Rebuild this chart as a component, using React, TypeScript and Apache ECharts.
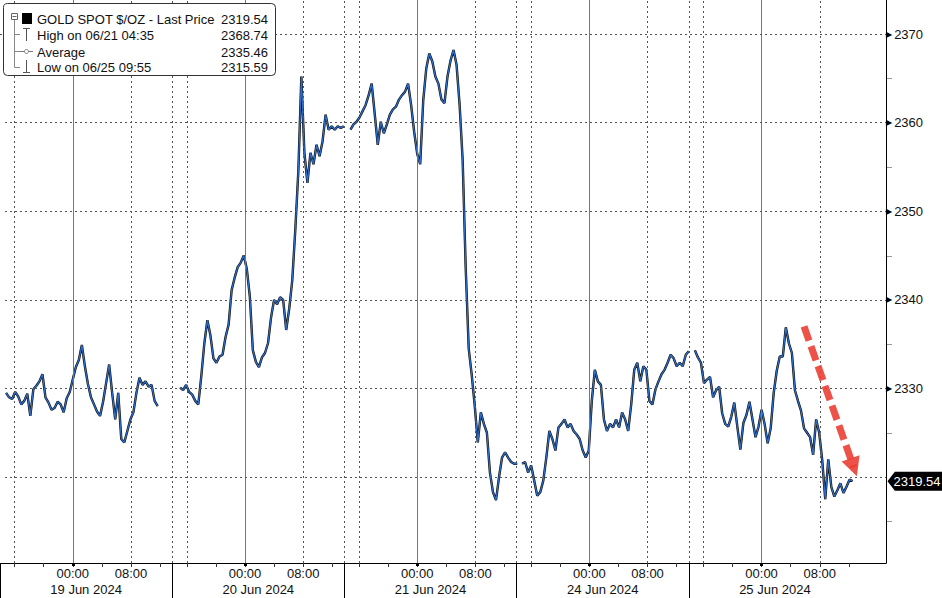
import React, { useEffect, useRef } from "react";
import * as echarts from "echarts";

// ---------- data ----------
const SESSION_DATES = ["19 Jun 2024", "20 Jun 2024", "21 Jun 2024", "24 Jun 2024", "25 Jun 2024"];
const SESSION_OPEN = "14:00"; // each session opens 14:00 of the previous calendar day
const SESSION_MINUTES = 1420;
const STEP_MINUTES = 25;
const FIRST_SAMPLE = ["14:50", "15:05", "14:50", "14:45", "14:50"];

const jun19 = [2329.5, 2329.0, 2328.8, 2329.6, 2329.1, 2328.2, 2328.6, 2329.4, 2326.9, 2329.9, 2330.3, 2330.8, 2331.6, 2329.0, 2328.4, 2327.6, 2327.8, 2328.5, 2328.2, 2327.3, 2328.9, 2329.6, 2331.0, 2332.4, 2333.2, 2334.9, 2332.5, 2330.5, 2329.0, 2328.2, 2327.4, 2326.9, 2328.5, 2330.6, 2332.7, 2329.5, 2326.5, 2329.5, 2324.3, 2323.9, 2325.2, 2326.5, 2327.3, 2329.5, 2331.2, 2330.4, 2330.8, 2330.2, 2330.4, 2328.6, 2328.0];
const jun20 = [2330.1, 2329.8, 2330.4, 2329.6, 2329.3, 2328.6, 2328.2, 2331.4, 2335.1, 2337.7, 2336.0, 2333.4, 2332.9, 2333.6, 2333.8, 2335.8, 2337.2, 2341.1, 2342.5, 2343.7, 2344.2, 2345.0, 2343.5, 2340.4, 2334.3, 2333.0, 2332.4, 2333.5, 2334.0, 2335.1, 2338.0, 2340.0, 2339.5, 2340.3, 2340.0, 2336.6, 2339.0, 2342.2, 2347.9, 2354.5, 2365.2, 2356.6, 2353.2, 2356.6, 2355.3, 2357.5, 2356.2, 2357.9, 2360.9, 2359.2, 2359.6, 2359.2, 2359.6, 2359.4, 2359.6];
const jun21 = [2359.2, 2359.8, 2360.1, 2360.6, 2361.3, 2362.0, 2363.1, 2364.4, 2361.0, 2357.5, 2360.1, 2358.8, 2359.8, 2360.9, 2361.5, 2361.8, 2362.6, 2363.1, 2363.5, 2364.4, 2362.0, 2359.0, 2356.5, 2355.3, 2362.5, 2366.1, 2367.8, 2366.9, 2365.2, 2364.4, 2362.6, 2362.2, 2365.2, 2367.0, 2368.2, 2366.5, 2362.0, 2355.8, 2343.7, 2334.5, 2331.5, 2328.0, 2323.9, 2327.3, 2326.0, 2325.0, 2320.5, 2318.3, 2317.4, 2320.0, 2322.2, 2322.8, 2322.2, 2321.7, 2321.5, 2321.5];
const jun24 = [2321.5, 2321.7, 2320.5, 2321.3, 2319.6, 2317.9, 2318.3, 2319.6, 2322.2, 2325.2, 2324.3, 2323.0, 2325.6, 2326.0, 2326.5, 2325.6, 2326.0, 2325.2, 2324.8, 2324.3, 2323.0, 2322.2, 2323.0, 2328.6, 2332.1, 2330.8, 2330.4, 2326.5, 2325.2, 2326.0, 2325.6, 2326.5, 2325.6, 2327.3, 2326.5, 2325.2, 2328.2, 2332.1, 2332.9, 2330.8, 2332.5, 2332.1, 2328.6, 2328.2, 2329.9, 2330.8, 2331.6, 2332.1, 2332.9, 2333.8, 2333.4, 2332.5, 2332.9, 2332.5, 2333.8, 2334.2];
const jun25 = [2334.3, 2333.5, 2332.9, 2330.6, 2331.0, 2331.3, 2329.0, 2329.8, 2330.2, 2327.2, 2326.0, 2325.7, 2326.8, 2328.4, 2325.7, 2323.1, 2326.1, 2327.0, 2328.5, 2326.5, 2324.5, 2325.7, 2327.6, 2326.0, 2323.8, 2325.5, 2329.5, 2332.0, 2333.6, 2333.6, 2336.9, 2335.1, 2334.0, 2329.8, 2328.6, 2327.5, 2325.5, 2325.0, 2324.5, 2322.5, 2326.5, 2325.0, 2321.9, 2317.5, 2322.0, 2318.9, 2317.8, 2318.5, 2319.3, 2318.2, 2318.9, 2319.7, 2319.54];
const SESSIONS = [jun19, jun20, jun21, jun24, jun25];

const LEGEND_LABELS = ["GOLD SPOT $/OZ - Last Price", "High on 06/21 04:35", "Average", "Low on 06/25 09:55"];
const LEGEND_VALUES = [2319.54, 2368.74, 2335.46, 2315.59];
const LAST_PRICE = 2319.54;

const TIME_LABELS = ["00:00", "08:00"];
const TICK_TIMES = ["16:00", "20:00", "00:00", "04:00", "08:00", "12:00"];
const DOTTED_TIMES = ["16:00", "08:00"];
const SOLID_TIMES = ["00:00"];
const Y_GRID = [2320, 2330, 2340, 2350, 2360, 2370];
const Y_LABELS = [2330, 2340, 2350, 2360, 2370]; // 2320 is covered by the last-price tag
const Y_MINOR = [2315, 2325, 2335, 2345, 2355, 2365];
const Y_MIN = 2310.3;
const Y_MAX = 2373.84;
const X_MAX = 7306;

// trend arrow (session 5): time, price
const ARROW_FROM = ["05:50", 2337.0];
const ARROW_TO = ["12:40", 2321.1];

// ---------- helpers ----------
const GRID = { left: 0, top: 0, width: 886, height: 563 };
const toMin = (t: string) => {
  const [h, m] = t.split(":").map(Number);
  return h * 60 + m;
};
const fromOpen = (t: string) => (toMin(t) - toMin(SESSION_OPEN) + 1440) % 1440;
const xAt = (session: number, t: string) => session * SESSION_MINUTES + fromOpen(t);
const yPix = (v: number) => GRID.top + ((Y_MAX - v) / (Y_MAX - Y_MIN)) * GRID.height;

const FONT = '"Liberation Sans", Arial, sans-serif';

function buildPoints() {
  const pts: any[] = [];
  SESSIONS.forEach((arr, k) => {
    const start = xAt(k, FIRST_SAMPLE[k]);
    arr.forEach((v, i) => pts.push([start + i * STEP_MINUTES, v]));
    pts.push([start + arr.length * STEP_MINUTES, null]);
  });
  return pts;
}

function buildGraphic() {
  const g: any[] = [
    {
      type: "rect",
      shape: { x: 3.5, y: 3.5, width: 272, height: 72, r: 4 },
      style: { fill: "#fff", stroke: "#333", lineWidth: 1 },
      z: 100,
    },
    { type: "rect", shape: { x: 11.5, y: 13.5, width: 6, height: 6 }, style: { fill: "#fff", stroke: "#666", lineWidth: 1 }, z: 101 },
    { type: "line", shape: { x1: 12.5, y1: 16.5, x2: 16.5, y2: 16.5 }, style: { stroke: "#666", lineWidth: 1 }, z: 101 },
    { type: "line", shape: { x1: 14.5, y1: 20, x2: 14.5, y2: 67.5 }, style: { stroke: "#888", lineWidth: 1 }, z: 101 },
    { type: "line", shape: { x1: 14.5, y1: 34.5, x2: 20, y2: 34.5 }, style: { stroke: "#888", lineWidth: 1 }, z: 101 },
    { type: "line", shape: { x1: 14.5, y1: 51.5, x2: 20, y2: 51.5 }, style: { stroke: "#888", lineWidth: 1 }, z: 101 },
    { type: "line", shape: { x1: 14.5, y1: 67.5, x2: 20, y2: 67.5 }, style: { stroke: "#888", lineWidth: 1 }, z: 101 },
    { type: "rect", shape: { x: 22, y: 13, width: 10, height: 11 }, style: { fill: "#000" }, z: 101 },
    { type: "line", shape: { x1: 26.5, y1: 28.5, x2: 26.5, y2: 41 }, style: { stroke: "#555", lineWidth: 1 }, z: 101 },
    { type: "line", shape: { x1: 23, y1: 28.5, x2: 30, y2: 28.5 }, style: { stroke: "#555", lineWidth: 1 }, z: 101 },
    { type: "line", shape: { x1: 20, y1: 51.5, x2: 33, y2: 51.5 }, style: { stroke: "#777", lineWidth: 1 }, z: 101 },
    { type: "circle", shape: { cx: 26.5, cy: 51.5, r: 2 }, style: { fill: "#fff", stroke: "#777", lineWidth: 1 }, z: 101 },
    { type: "line", shape: { x1: 26.5, y1: 60, x2: 26.5, y2: 72.5 }, style: { stroke: "#555", lineWidth: 1 }, z: 101 },
    { type: "line", shape: { x1: 23, y1: 72.5, x2: 30, y2: 72.5 }, style: { stroke: "#555", lineWidth: 1 }, z: 101 },
  ];
  const rowY = [19, 35, 52, 67];
  LEGEND_LABELS.forEach((label, i) => {
    g.push({
      type: "text",
      x: 37,
      y: rowY[i],
      z: 102,
      style: { text: label, fill: "#111", fontSize: 13, fontFamily: FONT, verticalAlign: "middle", align: "left" },
    });
    g.push({
      type: "text",
      x: 268,
      y: rowY[i],
      z: 102,
      style: {
        text: LEGEND_VALUES[i].toFixed(2),
        fill: "#111",
        fontSize: 13,
        fontFamily: FONT,
        verticalAlign: "middle",
        align: "right",
      },
    });
  });
  // minor ticks of the price axis (axis decoration, mapped through the axis range)
  const axisX = GRID.left + GRID.width;
  Y_MINOR.forEach((v) => {
    const y = Math.round(yPix(v)) + 0.5;
    g.push({
      type: "line",
      shape: { x1: axisX + 1, y1: y, x2: axisX + 6, y2: y },
      style: { stroke: "#999", lineWidth: 1 },
      z: 90,
    });
  });
  // white strip on the left plot edge
  g.push({ type: "rect", shape: { x: 0, y: 80, width: 4, height: 470 }, style: { fill: "#fff" }, z: 1000 });
  return g;
}

function buildOption() {
  const pts = buildPoints();
  const nSessions = SESSIONS.length;
  const sessionIdx = Array.from({ length: nSessions }, (_, k) => k);

  const tickVals = sessionIdx.flatMap((k) => TICK_TIMES.map((t) => xAt(k, t)));
  const labelVals = sessionIdx.flatMap((k) => TIME_LABELS.map((t) => xAt(k, t)));
  const midnightVals = sessionIdx.map((k) => xAt(k, "00:00"));
  const dividerVals = sessionIdx.map((k) => k * SESSION_MINUTES);
  const dateVals = sessionIdx.map((k) => k * SESSION_MINUTES + SESSION_MINUTES / 2);

  const dotted = { type: [2, 3], color: "#555", width: 1 };
  const gridLines: any[] = [];
  sessionIdx.forEach((k) => {
    if (k > 0) gridLines.push({ xAxis: k * SESSION_MINUTES, lineStyle: dotted });
    DOTTED_TIMES.forEach((t) => gridLines.push({ xAxis: xAt(k, t), lineStyle: dotted }));
    SOLID_TIMES.forEach((t) =>
      gridLines.push({ xAxis: xAt(k, t), lineStyle: { type: "solid", color: "#777", width: 1 } })
    );
  });
  Y_GRID.forEach((v) => gridLines.push({ yAxis: v, lineStyle: dotted }));

  const arrowFrom = [xAt(4, ARROW_FROM[0] as string), ARROW_FROM[1]];
  const arrowTo = [xAt(4, ARROW_TO[0] as string), ARROW_TO[1]];

  const baseX = { type: "value", min: 0, max: X_MAX, position: "bottom", splitLine: { show: false } };

  return {
    animation: false,
    backgroundColor: "#fff",
    textStyle: { fontFamily: FONT },
    grid: { ...GRID, containLabel: false },
    xAxis: [
      {
        ...baseX,
        axisLine: { show: true, onZero: false, lineStyle: { color: "#000", width: 1 } },
        axisTick: { show: true, customValues: tickVals, length: 4, lineStyle: { color: "#333" } },
        axisLabel: {
          show: true,
          customValues: labelVals,
          margin: 4,
          fontSize: 13,
          color: "#111",
          fontFamily: FONT,
          formatter: (v: number) => {
            const r = Math.round(v - Math.floor(v / SESSION_MINUTES) * SESSION_MINUTES);
            return TIME_LABELS.find((t) => fromOpen(t) === r) ?? "";
          },
        },
      },
      {
        ...baseX,
        axisLine: { show: false, onZero: false },
        axisTick: { show: true, customValues: dividerVals, length: 36, lineStyle: { color: "#000", width: 1 } },
        axisLabel: {
          show: true,
          customValues: dateVals,
          margin: 20,
          fontSize: 13,
          color: "#111",
          fontFamily: FONT,
          formatter: (v: number) => SESSION_DATES[Math.floor(v / SESSION_MINUTES)] ?? "",
        },
      },
      {
        ...baseX,
        axisLine: { show: false, onZero: false },
        axisTick: { show: true, customValues: midnightVals, length: 3, lineStyle: { color: "#000", width: 3 } },
        axisLabel: { show: false },
      },
    ],
    yAxis: {
      type: "value",
      position: "right",
      min: Y_MIN,
      max: Y_MAX,
      axisLine: { show: true, onZero: false, lineStyle: { color: "#000", width: 1 } },
      axisTick: { show: false },
      minorTick: { show: false },
      axisLabel: {
        show: true,
        customValues: Y_LABELS,
        margin: 0,
        formatter: (v: number) => `{t|▶}{v|${v}}`,
        rich: {
          t: { fontSize: 8, color: "#000", fontFamily: "DejaVu Sans", padding: [0, 2, 0, 0] },
          v: { fontSize: 13, color: "#111", fontFamily: FONT },
        },
      },
      splitLine: { show: false },
    },
    graphic: buildGraphic(),
    series: [
      {
        type: "line",
        data: [],
        z: 1,
        silent: true,
        markLine: {
          silent: true,
          symbol: ["none", "none"],
          label: { show: false },
          animation: false,
          data: gridLines,
        },
      },
      {
        type: "line",
        data: pts,
        showSymbol: false,
        connectNulls: false,
        z: 2,
        lineStyle: { color: "#0b0b0b", width: 2.4 },
        silent: true,
      },
      {
        type: "line",
        data: pts,
        showSymbol: false,
        connectNulls: false,
        z: 3,
        lineStyle: { color: "#2f6cc1", width: 1.3 },
        silent: true,
        markPoint: {
          silent: true,
          symbol: "path://M0,9 L8,0 L60,0 L60,18 L8,18 Z",
          symbolSize: [55, 19],
          symbolKeepAspect: false,
          symbolOffset: [29, 0],
          itemStyle: { color: "#000" },
          label: {
            show: true,
            color: "#fff",
            fontSize: 13,
            fontFamily: FONT,
            offset: [2, 0],
            formatter: () => LAST_PRICE.toFixed(2),
          },
          data: [{ coord: [X_MAX, LAST_PRICE] }],
        },
      },
      {
        type: "line",
        data: [],
        z: 5,
        silent: true,
        markLine: {
          silent: true,
          symbol: ["none", "triangle"],
          symbolSize: 19,
          label: { show: false },
          lineStyle: { color: "rgba(235,58,48,0.88)", width: 7, type: [15, 6] },
          itemStyle: { color: "rgba(235,58,48,0.88)" },
          data: [[{ coord: arrowFrom }, { coord: arrowTo }]],
        },
      },
    ],
  };
}

export default function App() {
  const ref = useRef<HTMLDivElement>(null);
  useEffect(() => {
    document.body.style.margin = "0";
    const chart = echarts.init(ref.current!, null, { renderer: "svg" });
    chart.setOption(buildOption() as any);
    return () => chart.dispose();
  }, []);
  return <div ref={ref} style={{ width: 942, height: 598, background: "#fff" }} />;
}
